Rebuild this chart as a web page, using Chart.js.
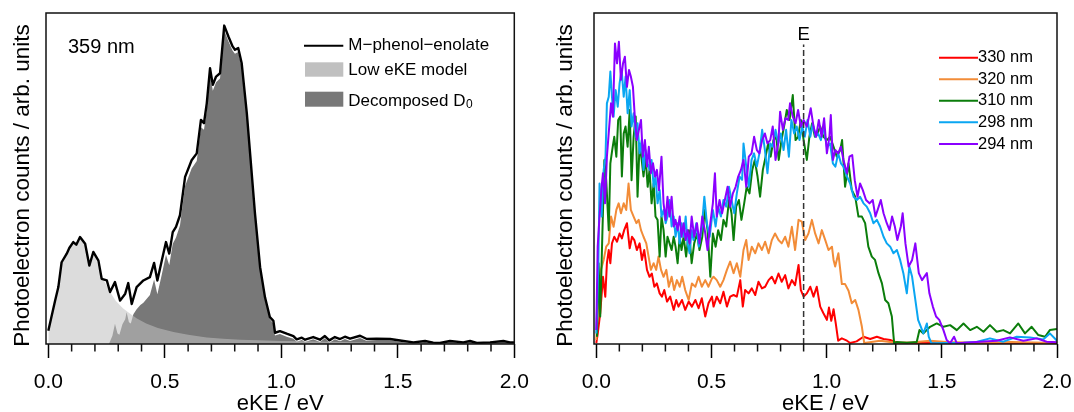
<!DOCTYPE html>
<html>
<head>
<meta charset="utf-8">
<script src="https://cdn.jsdelivr.net/npm/chart.js@4.4.1/dist/chart.umd.min.js"></script>
<style>
  html, body { margin: 0; padding: 0; background: #fff; overflow: hidden; }
  #wrap { position: relative; width: 1074px; height: 412px; overflow: hidden; }
  canvas { position: absolute; top: 0; }
</style>
</head>
<body>
<div id="wrap">
  <canvas id="left" width="560" height="412" style="left:0"></canvas>
  <canvas id="right" width="560" height="412" style="left:537px"></canvas>
</div>
<script>
// ---- data (eKE in eV, counts in arb. units) ----
const xTickLabels = ['0.0', '0.5', '1.0', '1.5', '2.0'];
const majorTicks = [0, 0.5, 1.0, 1.5, 2.0];
const minorTicks = [0.1, 0.2, 0.3, 0.4, 0.6, 0.7, 0.8, 0.9, 1.1, 1.2, 1.3, 1.4, 1.6, 1.7, 1.8, 1.9];

// left panel, 359 nm
const enolateTotal = [[0,.040],[.029,.131],[.043,.172],[.057,.247],[.079,.273],[.090,.29],[.107,.308],[.120,.300],[.136,.323],[.158,.303],[.176,.237],[.193,.278],[.215,.252],[.229,.197],[.251,.192],[.265,.157],[.286,.187],[.308,.131],[.330,.152],[.343,.184],[.358,.121],[.379,.172],[.408,.192],[.436,.202],[.454,.245],[.468,.192],[.487,.252],[.505,.308],[.519,.273],[.534,.338],[.548,.354],[.565,.389],[.587,.505],[.615,.555],[.637,.576],[.655,.677],[.668,.667],[.680,.727],[.694,.833],[.706,.783],[.720,.808],[.737,.818],[.755,.962],[.773,.929],[.791,.899],[.801,.889],[.815,.894],[.830,.848],[.852,.697],[.866,.576],[.887,.394],[.909,.232],[.930,.141],[.951,.081],[.966,.070],[.973,.034],[.994,.039],[1.023,.031],[1.052,.024],[1.066,.014],[1.088,.019],[1.102,.013],[1.137,.021],[1.166,.013],[1.187,.024],[1.206,.011],[1.230,.021],[1.252,.015],[1.273,.022],[1.295,.016],[1.338,.025],[1.367,.015],[1.409,.016],[1.467,.015],[1.524,.009],[1.567,.005],[1.617,.009],[1.652,.004],[1.681,.003],[1.724,.009],[1.781,.005],[1.810,.009],[1.839,.003],[1.896,.005],[1.953,.009],[1.981,.005],[2.0,.005]];
const lowEkeModel = [[0,.040],[.029,.131],[.043,.172],[.057,.247],[.079,.273],[.090,.29],[.107,.308],[.120,.300],[.136,.323],[.158,.303],[.176,.237],[.193,.278],[.205,.255],[.22,.222],[.24,.19],[.265,.157],[.29,.130],[.32,.108],[.35,.092],[.38,.077],[.42,.062],[.47,.048],[.537,.036],[.60,.028],[.68,.020],[.75,.016],[.823,.013],[.90,.011],[1.0,.009],[1.1,.008],[1.25,.006],[1.4,.004],[1.6,.002],[1.8,.001],[2.0,.001]];
const decomposedD0 = [[.26,0],[.275,.025],[.286,.061],[.297,.032],[.305,.028],[.318,.06],[.330,.075],[.336,.096],[.346,.066],[.354,.062],[.365,.09],[.379,.105],[.395,.118],[.408,.125],[.436,.148],[.454,.195],[.468,.150],[.487,.21],[.505,.27],[.519,.238],[.534,.303],[.548,.322],[.565,.358],[.587,.477],[.615,.53],[.637,.553],[.655,.655],[.668,.647],[.680,.707],[.694,.814],[.706,.765],[.720,.791],[.737,.802],[.755,.947],[.773,.915],[.791,.886],[.801,.877],[.815,.882],[.830,.836],[.852,.686],[.866,.566],[.887,.385],[.909,.224],[.930,.134],[.951,.075],[.966,.062],[.973,.026],[.994,.030],[1.023,.022],[1.052,.016],[1.066,.007],[1.088,.012],[1.102,.006],[1.137,.014],[1.166,.006],[1.187,.017],[1.206,.004],[1.230,.014],[1.252,.008],[1.273,.015],[1.295,.009],[1.338,.018],[1.367,.009],[1.409,.011],[1.467,.011],[1.524,.005],[1.567,.002],[1.617,.006],[1.652,.002],[1.681,.001],[1.724,.007],[1.781,.003],[1.810,.007],[1.839,.001],[1.896,.003],[1.953,.007],[1.981,.003],[2.0,.003]];

// right panel, wavelength series
const wavelengthLabels = ['330 nm', '320 nm', '310 nm', '298 nm', '294 nm'];
const spec330 = [[0,.003],[.006,.03],[.017,.093],[.029,.203],[.039,.143],[.046,.244],[.054,.284],[.061,.244],[.068,.304],[.078,.324],[.090,.309],[.101,.334],[.111,.319],[.121,.344],[.133,.365],[.145,.289],[.155,.324],[.165,.314],[.176,.284],[.188,.304],[.198,.254],[.208,.284],[.220,.224],[.231,.203],[.241,.213],[.252,.173],[.263,.183],[.275,.153],[.285,.143],[.295,.163],[.307,.128],[.321,.143],[.336,.103],[.347,.133],[.357,.113],[.372,.133],[.386,.103],[.401,.128],[.415,.113],[.430,.133],[.444,.108],[.458,.138],[.473,.083],[.487,.123],[.502,.143],[.509,.113],[.523,.143],[.538,.123],[.552,.158],[.567,.113],[.581,.143],[.596,.148],[.610,.143],[.625,.193],[.636,.113],[.646,.163],[.661,.153],[.675,.168],[.690,.148],[.704,.188],[.719,.168],[.733,.173],[.748,.193],[.762,.203],[.776,.183],[.791,.213],[.805,.188],[.820,.208],[.834,.168],[.849,.193],[.863,.178],[.878,.239],[.888,.163],[.900,.143],[.914,.153],[.929,.173],[.943,.143],[.957,.173],[.972,.113],[.986,.093],[1.001,.073],[1.010,.110],[1.020,.070],[1.030,.105],[1.040,.060],[1.050,.010],[1.066,.017],[1.088,.010],[1.102,.003],[1.130,.008],[1.160,.022],[1.189,.015],[1.218,.022],[1.247,.015],[1.276,.012],[1.305,.004],[1.5,.002],[2.0,.002]];
const spec320 = [[0,.012],[.010,.143],[.020,.224],[.032,.254],[.043,.294],[.054,.304],[.064,.385],[.075,.354],[.087,.405],[.097,.425],[.107,.395],[.119,.425],[.130,.405],[.140,.485],[.150,.405],[.162,.385],[.174,.365],[.184,.375],[.194,.344],[.205,.324],[.217,.304],[.227,.264],[.237,.224],[.249,.244],[.260,.224],[.270,.264],[.281,.224],[.292,.203],[.304,.224],[.315,.173],[.327,.203],[.338,.163],[.350,.193],[.362,.173],[.373,.203],[.386,.163],[.401,.133],[.415,.183],[.430,.173],[.444,.203],[.458,.173],[.473,.193],[.487,.173],[.502,.198],[.509,.203],[.523,.193],[.538,.173],[.552,.193],[.567,.224],[.581,.249],[.596,.214],[.610,.244],[.625,.203],[.639,.284],[.651,.314],[.661,.254],[.675,.294],[.690,.274],[.704,.304],[.719,.284],[.733,.309],[.748,.274],[.762,.314],[.776,.334],[.791,.314],[.805,.304],[.820,.324],[.834,.294],[.849,.354],[.863,.284],[.878,.375],[.892,.370],[.907,.314],[.921,.334],[.936,.375],[.950,.334],[.965,.304],[.979,.344],[.994,.314],[1.008,.284],[1.023,.294],[1.030,.254],[1.037,.234],[1.051,.274],[1.066,.181],[1.080,.181],[1.095,.161],[1.109,.123],[1.124,.133],[1.138,.103],[1.153,.052],[1.163,.003],[1.232,.010],[1.30,.004],[1.377,.005],[1.45,.010],[1.52,.006],[1.65,.004],[1.80,.006],[1.95,.004],[2.0,.006]];
const spec310 = [[.003,.022],[.010,.244],[.017,.083],[.026,.324],[.035,.556],[.043,.495],[.054,.344],[.061,.546],[.069,.586],[.078,.626],[.087,.566],[.095,.677],[.104,.687],[.111,.506],[.119,.636],[.127,.657],[.136,.596],[.145,.707],[.153,.495],[.162,.626],[.171,.687],[.179,.445],[.188,.606],[.197,.556],[.205,.506],[.214,.566],[.223,.475],[.231,.526],[.240,.425],[.249,.485],[.257,.385],[.266,.375],[.275,.264],[.283,.385],[.292,.344],[.301,.264],[.309,.324],[.318,.304],[.327,.284],[.336,.324],[.344,.294],[.353,.244],[.362,.324],[.370,.284],[.379,.324],[.390,.264],[.402,.344],[.414,.244],[.425,.304],[.437,.334],[.448,.284],[.460,.324],[.471,.405],[.483,.344],[.495,.203],[.506,.334],[.518,.294],[.529,.344],[.541,.314],[.552,.375],[.564,.355],[.576,.435],[.587,.395],[.596,.314],[.607,.415],[.619,.435],[.630,.375],[.642,.425],[.653,.475],[.665,.455],[.677,.526],[.688,.556],[.700,.506],[.711,.445],[.723,.526],[.735,.566],[.746,.606],[.757,.566],[.769,.616],[.781,.626],[.792,.556],[.804,.616],[.815,.657],[.827,.707],[.839,.677],[.853,.752],[.865,.616],[.876,.626],[.888,.677],[.900,.616],[.914,.556],[.925,.626],[.937,.667],[.949,.626],[.960,.636],[.972,.657],[.986,.626],[1.001,.616],[1.015,.626],[1.030,.596],[1.044,.566],[1.059,.586],[1.067,.616],[1.080,.475],[1.095,.546],[1.109,.465],[1.124,.445],[1.138,.385],[1.153,.385],[1.167,.365],[1.181,.294],[1.196,.264],[1.210,.254],[1.225,.214],[1.240,.183],[1.254,.133],[1.268,.123],[1.283,.083],[1.293,.002],[1.305,.006],[1.348,.004],[1.391,.006],[1.403,.042],[1.420,.032],[1.449,.052],[1.478,.062],[1.507,.052],[1.536,.057],[1.565,.042],[1.594,.062],[1.623,.042],[1.652,.052],[1.681,.037],[1.709,.057],[1.738,.037],[1.767,.042],[1.796,.032],[1.832,.062],[1.861,.032],[1.890,.052],[1.919,.027],[1.948,.022],[1.969,.042],[2.0,.045]];
const spec298 = [[0,.032],[.009,.244],[.014,.485],[.023,.385],[.032,.526],[.040,.566],[.046,.727],[.054,.747],[.061,.823],[.068,.747],[.075,.687],[.084,.767],[.093,.717],[.101,.787],[.110,.828],[.119,.747],[.127,.808],[.136,.697],[.145,.767],[.153,.657],[.162,.697],[.171,.626],[.179,.667],[.188,.576],[.197,.616],[.205,.526],[.214,.586],[.223,.546],[.231,.526],[.240,.556],[.249,.475],[.257,.506],[.266,.425],[.275,.465],[.283,.385],[.292,.405],[.301,.365],[.309,.385],[.318,.435],[.327,.355],[.336,.385],[.344,.324],[.353,.365],[.362,.304],[.370,.365],[.379,.324],[.388,.385],[.396,.304],[.405,.274],[.414,.344],[.422,.314],[.434,.365],[.445,.294],[.457,.344],[.469,.445],[.480,.365],[.492,.324],[.506,.405],[.518,.355],[.529,.415],[.541,.385],[.552,.435],[.564,.415],[.576,.475],[.587,.435],[.599,.395],[.610,.455],[.622,.506],[.633,.496],[.639,.606],[.651,.536],[.662,.475],[.674,.556],[.685,.576],[.697,.536],[.708,.576],[.720,.647],[.732,.586],[.743,.516],[.755,.606],[.766,.596],[.778,.647],[.790,.606],[.801,.636],[.813,.586],[.824,.647],[.836,.566],[.847,.677],[.859,.636],[.870,.657],[.882,.616],[.894,.657],[.905,.626],[.917,.677],[.929,.626],[.940,.667],[.952,.626],[.963,.636],[.975,.616],[.986,.657],[1.001,.596],[1.015,.606],[1.027,.546],[1.038,.536],[1.050,.576],[1.062,.546],[1.073,.536],[1.088,.506],[1.102,.485],[1.117,.445],[1.131,.435],[1.145,.445],[1.160,.425],[1.174,.415],[1.189,.395],[1.203,.365],[1.218,.375],[1.232,.355],[1.247,.324],[1.261,.304],[1.276,.294],[1.290,.274],[1.305,.284],[1.319,.254],[1.333,.214],[1.348,.153],[1.359,.234],[1.371,.203],[1.385,.133],[1.397,.073],[1.409,.052],[1.420,.032],[1.435,.062],[1.443,.022],[1.455,.002],[1.594,.004],[1.65,.006],[1.709,.017],[1.767,.007],[1.825,.022],[1.883,.020],[1.941,.014],[1.969,.032],[2.0,.010]];
const spec294 = [[0,.042],[.006,.294],[.014,.385],[.023,.475],[.029,.516],[.038,.425],[.046,.566],[.055,.647],[.064,.727],[.072,.687],[.081,.908],[.090,.848],[.098,.913],[.107,.798],[.116,.848],[.124,.868],[.133,.777],[.142,.828],[.150,.808],[.159,.777],[.168,.677],[.176,.616],[.185,.647],[.194,.677],[.202,.566],[.211,.616],[.220,.536],[.228,.596],[.237,.516],[.246,.546],[.255,.506],[.263,.526],[.272,.465],[.283,.566],[.292,.425],[.301,.375],[.309,.445],[.318,.385],[.327,.445],[.336,.355],[.344,.375],[.353,.344],[.362,.385],[.370,.324],[.379,.365],[.388,.314],[.396,.344],[.405,.304],[.414,.385],[.425,.324],[.437,.365],[.448,.304],[.460,.385],[.471,.344],[.483,.284],[.495,.365],[.506,.425],[.515,.516],[.523,.385],[.535,.435],[.546,.395],[.558,.435],[.570,.475],[.581,.415],[.593,.455],[.605,.475],[.616,.506],[.628,.526],[.639,.556],[.651,.475],[.662,.566],[.674,.576],[.685,.626],[.697,.586],[.708,.576],[.720,.616],[.732,.636],[.743,.606],[.755,.616],[.766,.657],[.778,.556],[.790,.606],[.798,.702],[.810,.647],[.821,.682],[.833,.677],[.841,.727],[.853,.687],[.865,.667],[.876,.707],[.888,.657],[.900,.677],[.914,.657],[.931,.712],[.943,.657],[.954,.626],[.966,.677],[.978,.626],[.989,.682],[1.001,.576],[1.012,.626],[1.018,.692],[1.027,.556],[1.038,.586],[1.050,.576],[1.062,.596],[1.073,.556],[1.088,.516],[1.099,.566],[1.111,.571],[1.122,.495],[1.134,.445],[1.145,.485],[1.157,.465],[1.171,.435],[1.186,.425],[1.200,.435],[1.212,.385],[1.226,.415],[1.235,.435],[1.247,.395],[1.261,.365],[1.273,.344],[1.284,.385],[1.296,.355],[1.307,.314],[1.322,.355],[1.330,.395],[1.342,.304],[1.356,.234],[1.371,.254],[1.385,.304],[1.400,.214],[1.414,.193],[1.435,.214],[1.446,.153],[1.461,.113],[1.475,.083],[1.489,.073],[1.507,.042],[1.521,.012],[1.536,.002],[1.553,.022],[1.565,.002],[1.666,.007],[1.738,.010],[1.796,.020],[1.854,.010],[1.912,.017],[1.955,.007],[2.0,.005]];
const eMarker = 0.9;   // position of "E" line, eV

// ---- styling ----
const FONT = '"Liberation Sans", Arial, Helvetica, sans-serif';
const lineColors = ['#ff0000', '#f28c38', '#0b7d0b', '#0aa6f2', '#8a00ff'];
Chart.defaults.font.family = FONT;
Chart.defaults.color = '#000';

function pts(pairs) {
  return pairs.map(p => ({ x: p[0], y: p[1] }));
}

function xAxis(height) {
  return {
    type: 'linear', min: -0.01, max: 2.0,
    afterBuildTicks: s => { s.ticks = majorTicks.map(v => ({ value: v })); },
    afterFit: s => { s.height = height; },
    ticks: { callback: (v, i) => xTickLabels[i], font: { size: 21 }, padding: 12, maxRotation: 0, autoSkip: false, color: '#000' },
    grid: { display: true, drawOnChartArea: false, drawTicks: true, tickLength: 14, tickWidth: 1.5, tickColor: '#000' },
    border: { display: false },
    title: { display: true, text: 'eKE / eV', font: { size: 22 }, padding: { top: 0, bottom: -5 }, color: '#000' }
  };
}

function yAxis(width) {
  return {
    type: 'linear', min: 0, max: 1,
    afterFit: s => { s.width = width; },
    ticks: { display: false },
    grid: { display: false },
    border: { display: false }
  };
}

// frame, minor ticks and rotated y title shared by both panels
function drawCommon(chart, titleX) {
  const { ctx, chartArea: a, scales: { x } } = chart;
  ctx.save();
  ctx.strokeStyle = '#111';
  ctx.lineWidth = 1.5;
  ctx.strokeRect(a.left, a.top, a.right - a.left, a.bottom - a.top);
  ctx.beginPath();
  minorTicks.forEach(v => {
    const px = x.getPixelForValue(v);
    ctx.moveTo(px, a.bottom);
    ctx.lineTo(px, a.bottom + 7.5);
  });
  ctx.stroke();
  ctx.translate(titleX, 185.5);
  ctx.rotate(-Math.PI / 2);
  ctx.fillStyle = '#000';
  ctx.font = '22.5px ' + FONT;
  ctx.textAlign = 'center';
  ctx.textBaseline = 'middle';
  ctx.fillText('Photoelectron counts / arb. units', 0, 0);
  ctx.restore();
}

const leftDecor = {
  id: 'leftDecor',
  afterDraw(chart) {
    const ctx = chart.ctx;
    drawCommon(chart, 23);
    ctx.save();
    ctx.fillStyle = '#000';
    ctx.font = '20px ' + FONT;
    ctx.textBaseline = 'middle';
    ctx.fillText('359 nm', 68, 47);

    // legend
    ctx.strokeStyle = '#000';
    ctx.lineWidth = 2;
    ctx.beginPath();
    ctx.moveTo(304, 45.7);
    ctx.lineTo(343.3, 45.7);
    ctx.stroke();
    ctx.fillStyle = '#c0c0c0';
    ctx.fillRect(305, 62.3, 38.3, 14.4);
    ctx.fillStyle = '#787878';
    ctx.fillRect(305, 91.7, 38.3, 15);
    ctx.fillStyle = '#000';
    ctx.font = '17px ' + FONT;
    ctx.fillText('M\u2212phenol\u2212enolate', 348.3, 45.7);
    ctx.fillText('Low eKE model', 348.3, 70);
    ctx.textBaseline = 'alphabetic';
    ctx.fillText('Decomposed D', 348.3, 106);
    const w = ctx.measureText('Decomposed D').width;
    ctx.font = '12px ' + FONT;
    ctx.fillText('0', 348.3 + w + 0.5, 107.5);
    ctx.restore();
  }
};

const rightDecor = {
  id: 'rightDecor',
  afterDraw(chart) {
    const ctx = chart.ctx;
    const x = chart.scales.x;
    drawCommon(chart, 29);
    ctx.save();
    ctx.fillStyle = '#000';
    ctx.font = '18.5px ' + FONT;
    ctx.textAlign = 'center';
    ctx.textBaseline = 'middle';
    ctx.fillText('E', x.getPixelForValue(eMarker), 35);

    // legend
    const rows = [57.7, 79.3, 100.7, 122.3, 144];
    ctx.textAlign = 'left';
    ctx.font = '16.5px ' + FONT;
    ctx.lineWidth = 2;
    wavelengthLabels.forEach((lab, i) => {
      ctx.strokeStyle = lineColors[i];
      ctx.beginPath();
      ctx.moveTo(402, rows[i]);
      ctx.lineTo(441, rows[i]);
      ctx.stroke();
      ctx.fillStyle = '#000';
      ctx.fillText(lab, 441, rows[i]);
    });
    ctx.restore();
  }
};

const common = {
  responsive: false,
  maintainAspectRatio: false,
  animation: false,
  events: [],
  plugins: { legend: { display: false }, tooltip: { enabled: false } },
  elements: { point: { radius: 0 }, line: { tension: 0, borderJoinStyle: 'round' } }
};

new Chart(document.getElementById('left'), {
  type: 'line',
  data: {
    datasets: [
      { label: 'M\u2212phenol\u2212enolate', data: pts(enolateTotal), borderColor: '#000', borderWidth: 2.4, fill: false, order: 0 },
      { label: 'Low eKE model', data: pts(lowEkeModel), borderColor: 'rgba(0,0,0,0)', borderWidth: 1, backgroundColor: 'rgba(192,192,192,0.56)', fill: 'origin', order: 1 },
      { label: 'Decomposed D0', data: pts(decomposedD0), borderColor: 'rgba(0,0,0,0)', borderWidth: 1, backgroundColor: '#787878', fill: 'origin', order: 2 }
    ]
  },
  options: Object.assign({}, common, {
    layout: { padding: { left: 0, right: 45.7, top: 13, bottom: 0 } },
    scales: { x: xAxis(68), y: yAxis(46) }
  }),
  plugins: [leftDecor]
});

const series = [spec330, spec320, spec310, spec298, spec294];
const rightSets = series.map((s, i) => ({
  label: wavelengthLabels[i], data: pts(s), borderColor: lineColors[i], borderWidth: 2, fill: false, order: 5 - i
}));
rightSets.push({
  label: 'E', data: [{ x: eMarker, y: 0 }, { x: eMarker, y: 0.905 }],
  borderColor: '#333', borderWidth: 1.5, borderDash: [6, 3], fill: false, order: 0
});

new Chart(document.getElementById('right'), {
  type: 'line',
  data: { datasets: rightSets },
  options: Object.assign({}, common, {
    layout: { padding: { left: 0, right: 40, top: 13, bottom: 0 } },
    scales: { x: xAxis(68), y: yAxis(57) }
  }),
  plugins: [rightDecor]
});
</script>
</body>
</html>
